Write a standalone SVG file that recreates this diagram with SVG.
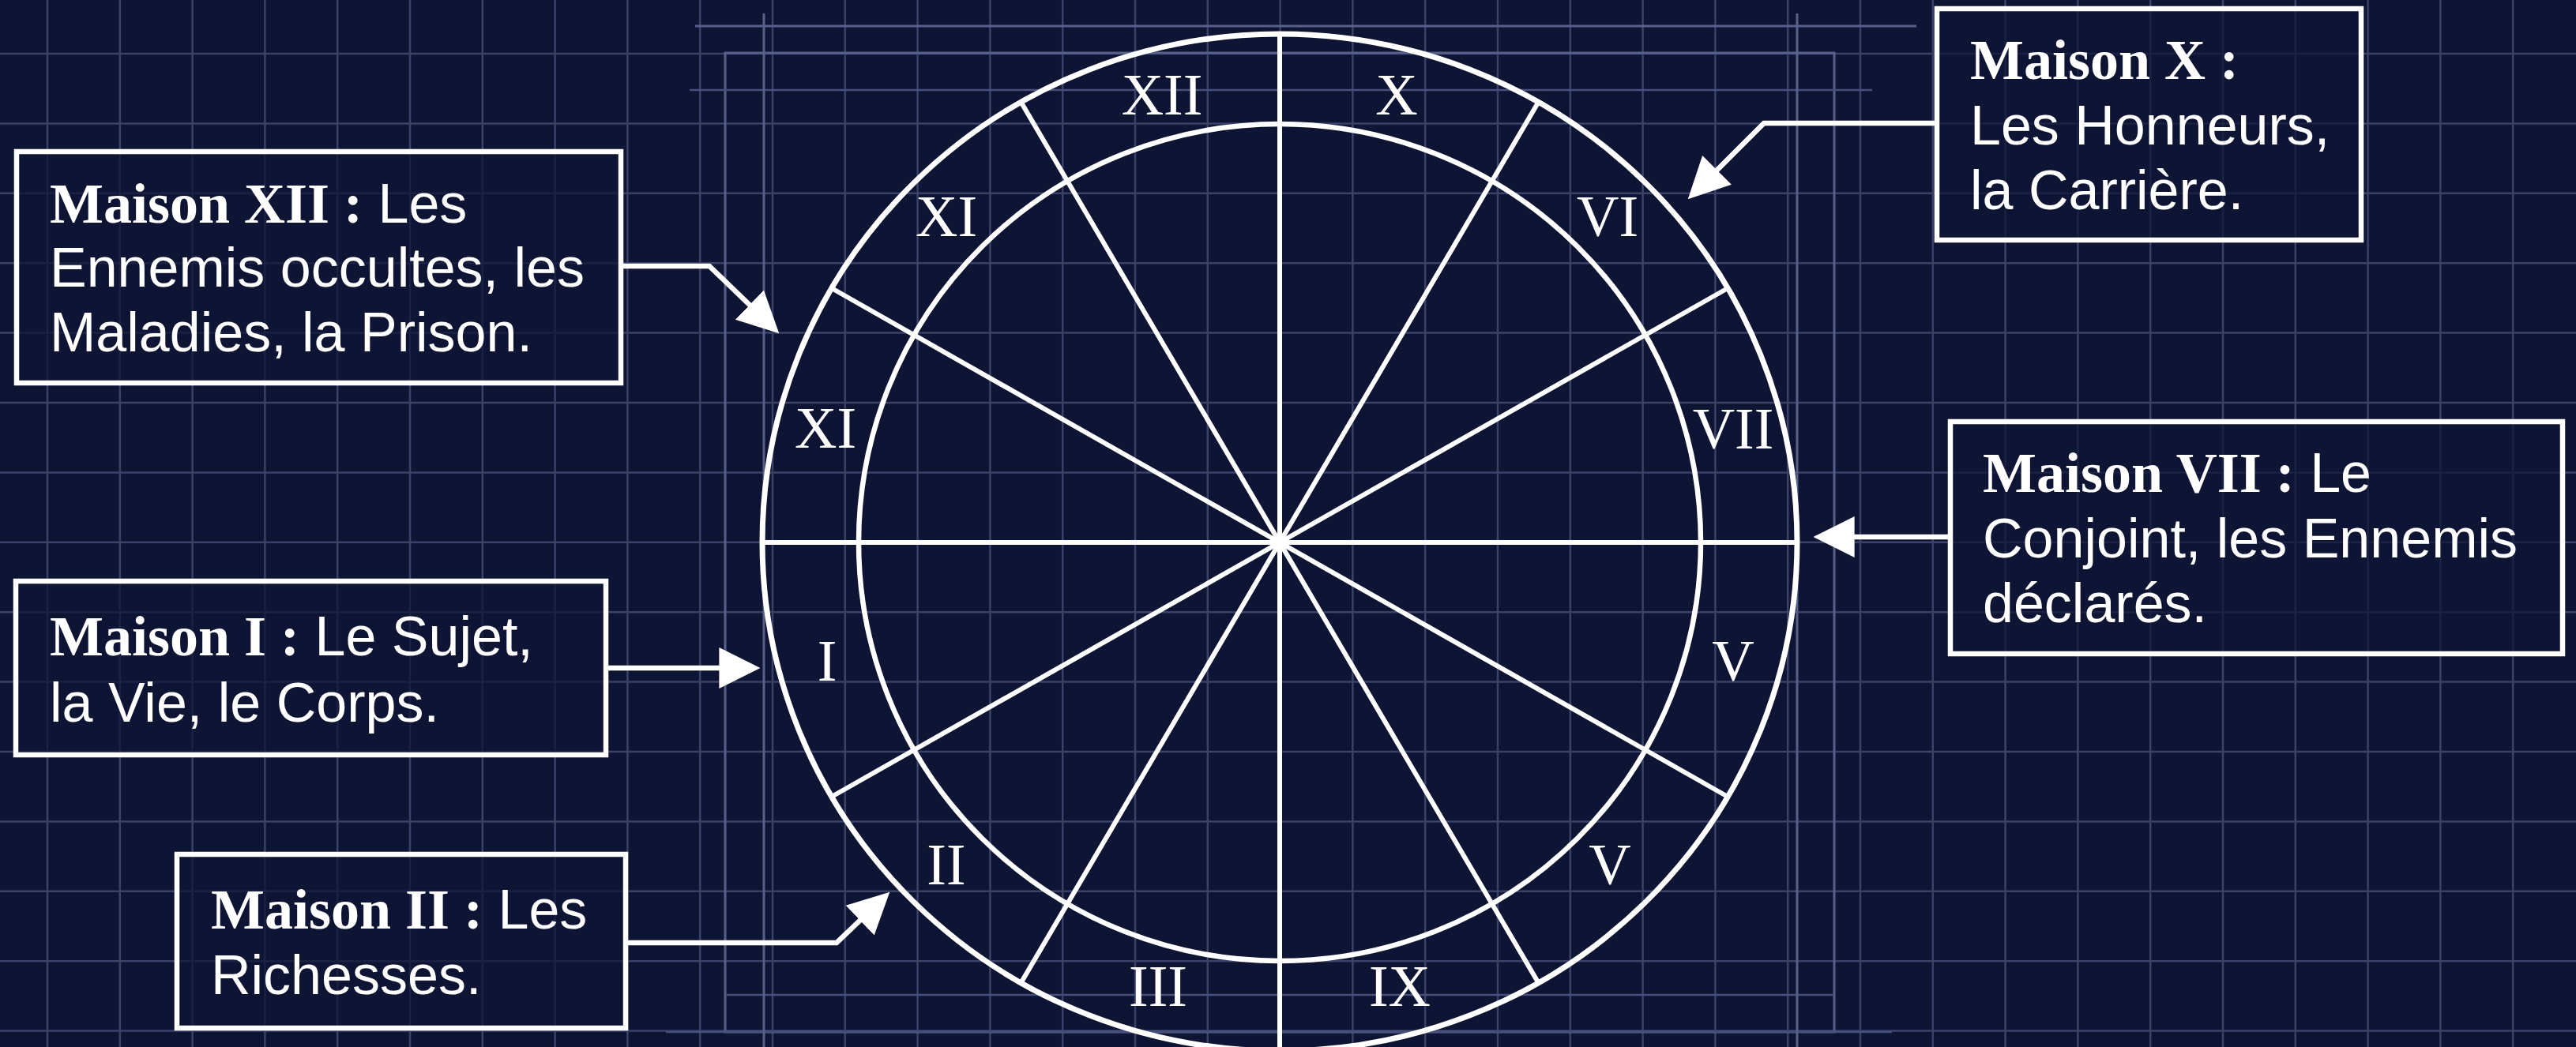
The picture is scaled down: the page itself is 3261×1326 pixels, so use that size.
<svg xmlns="http://www.w3.org/2000/svg" width="3261" height="1326" viewBox="0 0 3261 1326">
<defs>
<style>
.grid line{stroke:#3a4268;stroke-width:2.5}
.frame{stroke:#566088;stroke-width:3;fill:none}
.frame2{stroke:#46507a;stroke-width:2.5;fill:none}
.wheel{stroke:#ffffff;fill:none}
.spoke{stroke:#ffffff;stroke-width:6}
.num{font-family:"Liberation Serif","Times New Roman",serif;font-size:74px;fill:#ffffff;text-anchor:middle}
.box{fill:#0e1534;fill-opacity:0.72;stroke:#ffffff;stroke-width:6.5}
.t{fill:#ffffff}
.b{font-family:"Liberation Serif","Times New Roman",serif;font-weight:bold;font-size:72px}
.r{font-family:"Liberation Sans",Arial,sans-serif;font-size:70px}
.conn{stroke:#ffffff;stroke-width:6.5;fill:none;stroke-linejoin:miter}
</style>
<marker id="ah" viewBox="0 0 10 10" refX="8" refY="5" markerUnits="userSpaceOnUse" markerWidth="52" markerHeight="56" orient="auto">
<path d="M0,0 L10,5 L0,10 z" fill="#ffffff"/>
</marker>
</defs>
<rect x="0" y="0" width="3261" height="1326" fill="#0e1534"/>
<g class="grid">
<line x1="60" y1="0" x2="60" y2="1326"/><line x1="151.8" y1="0" x2="151.8" y2="1326"/><line x1="243.6" y1="0" x2="243.6" y2="1326"/><line x1="335.4" y1="0" x2="335.4" y2="1326"/><line x1="427.2" y1="0" x2="427.2" y2="1326"/><line x1="519" y1="0" x2="519" y2="1326"/><line x1="610.8" y1="0" x2="610.8" y2="1326"/><line x1="702.6" y1="0" x2="702.6" y2="1326"/><line x1="794.4" y1="0" x2="794.4" y2="1326"/><line x1="886.2" y1="0" x2="886.2" y2="1326"/><line x1="978" y1="0" x2="978" y2="1326"/><line x1="1069.8" y1="0" x2="1069.8" y2="1326"/><line x1="1161.6" y1="0" x2="1161.6" y2="1326"/><line x1="1253.4" y1="0" x2="1253.4" y2="1326"/><line x1="1345.2" y1="0" x2="1345.2" y2="1326"/><line x1="1437" y1="0" x2="1437" y2="1326"/><line x1="1528.8" y1="0" x2="1528.8" y2="1326"/><line x1="1620.6" y1="0" x2="1620.6" y2="1326"/><line x1="1712.4" y1="0" x2="1712.4" y2="1326"/><line x1="1804.2" y1="0" x2="1804.2" y2="1326"/><line x1="1896" y1="0" x2="1896" y2="1326"/><line x1="1987.8" y1="0" x2="1987.8" y2="1326"/><line x1="2079.6" y1="0" x2="2079.6" y2="1326"/><line x1="2171.4" y1="0" x2="2171.4" y2="1326"/><line x1="2263.2" y1="0" x2="2263.2" y2="1326"/><line x1="2355" y1="0" x2="2355" y2="1326"/><line x1="2446.8" y1="0" x2="2446.8" y2="1326"/><line x1="2538.6" y1="0" x2="2538.6" y2="1326"/><line x1="2630.4" y1="0" x2="2630.4" y2="1326"/><line x1="2722.2" y1="0" x2="2722.2" y2="1326"/><line x1="2814" y1="0" x2="2814" y2="1326"/><line x1="2905.8" y1="0" x2="2905.8" y2="1326"/><line x1="2997.6" y1="0" x2="2997.6" y2="1326"/><line x1="3089.4" y1="0" x2="3089.4" y2="1326"/><line x1="3181.2" y1="0" x2="3181.2" y2="1326"/>
<line x1="0" y1="68" x2="3261" y2="68"/><line x1="0" y1="156.4" x2="3261" y2="156.4"/><line x1="0" y1="244.8" x2="3261" y2="244.8"/><line x1="0" y1="333.2" x2="3261" y2="333.2"/><line x1="0" y1="421.6" x2="3261" y2="421.6"/><line x1="0" y1="510" x2="3261" y2="510"/><line x1="0" y1="598.4" x2="3261" y2="598.4"/><line x1="0" y1="686.8" x2="3261" y2="686.8"/><line x1="0" y1="775.2" x2="3261" y2="775.2"/><line x1="0" y1="863.6" x2="3261" y2="863.6"/><line x1="0" y1="952" x2="3261" y2="952"/><line x1="0" y1="1040.4" x2="3261" y2="1040.4"/><line x1="0" y1="1128.8" x2="3261" y2="1128.8"/><line x1="0" y1="1217.2" x2="3261" y2="1217.2"/><line x1="0" y1="1305.6" x2="3261" y2="1305.6"/>
</g>
<g id="frame">
<rect class="frame" x="918" y="67" width="1404" height="1240"/>
<line class="frame" x1="880" y1="33" x2="2426" y2="33"/>
<line class="frame2" x1="873" y1="114" x2="2370" y2="114"/>
<line class="frame2" x1="918" y1="1260" x2="2322" y2="1260"/>
<line class="frame2" x1="843" y1="1307" x2="2395" y2="1307"/>
<line class="frame" x1="967" y1="17" x2="967" y2="1326"/>
<line class="frame" x1="2275" y1="17" x2="2275" y2="1326"/>
</g>
<g id="wheel">
<ellipse class="wheel" cx="1620" cy="687" rx="655" ry="644" stroke-width="7"/>
<ellipse class="wheel" cx="1620" cy="687" rx="533" ry="530" stroke-width="6.5"/>
<line class="spoke" x1="965" y1="687" x2="2275" y2="687"/>
<line class="spoke" x1="2187.2" y1="365" x2="1052.8" y2="1009"/>
<line class="spoke" x1="1947.5" y1="129.3" x2="1292.5" y2="1244.7"/>
<line class="spoke" x1="1620" y1="43" x2="1620" y2="1331"/>
<line class="spoke" x1="1292.5" y1="129.3" x2="1947.5" y2="1244.7"/>
<line class="spoke" x1="1052.8" y1="365" x2="2187.2" y2="1009"/>
<text class="num" x="1471" y="145">XII</text>
<text class="num" x="1768" y="145">X</text>
<text class="num" x="1198" y="299">XI</text>
<text class="num" x="2035" y="299">VI</text>
<text class="num" x="1045" y="567">XI</text>
<text class="num" x="2194" y="568">VII</text>
<text class="num" x="1047" y="862">I</text>
<text class="num" x="2194" y="862">V</text>
<text class="num" x="1198" y="1120">II</text>
<text class="num" x="2038" y="1120">V</text>
<text class="num" x="1466" y="1274">III</text>
<text class="num" x="1772" y="1274">IX</text>
</g>
<g id="connectors">
<path class="conn" d="M786,337 H898 L978.8,415" marker-end="url(#ah)"/>
<path class="conn" d="M767,846 H952" marker-end="url(#ah)"/>
<path class="conn" d="M792,1194 H1059 L1118.8,1136.9" marker-end="url(#ah)"/>
<path class="conn" d="M2452,156 H2233 L2144.1,244.9" marker-end="url(#ah)"/>
<path class="conn" d="M2469,680 H2306" marker-end="url(#ah)"/>
</g>
<g id="node-maison-xii">
<rect class="box" x="21" y="192" width="765" height="293"/>
<text class="t" x="63" y="282"><tspan class="b">Maison XII :</tspan><tspan class="r"> Les</tspan></text>
<text class="t r" x="63" y="363">Ennemis occultes, les</text>
<text class="t r" x="63" y="445">Maladies, la Prison.</text>
</g>
<g id="node-maison-i">
<rect class="box" x="20" y="736" width="747" height="220"/>
<text class="t" x="63" y="830"><tspan class="b">Maison I :</tspan><tspan class="r"> Le Sujet,</tspan></text>
<text class="t r" x="63" y="914">la Vie, le Corps.</text>
</g>
<g id="node-maison-ii">
<rect class="box" x="224" y="1082" width="568" height="220"/>
<text class="t" x="267" y="1176"><tspan class="b">Maison II :</tspan><tspan class="r"> Les</tspan></text>
<text class="t r" x="267" y="1259">Richesses.</text>
</g>
<g id="node-maison-x">
<rect class="box" x="2452" y="11" width="537" height="293"/>
<text class="t b" x="2494" y="100">Maison X :</text>
<text class="t r" x="2494" y="183">Les Honneurs,</text>
<text class="t r" x="2494" y="265">la Carrière.</text>
</g>
<g id="node-maison-vii">
<rect class="box" x="2469" y="534" width="775" height="294"/>
<text class="t" x="2510" y="623"><tspan class="b">Maison VII :</tspan><tspan class="r"> Le</tspan></text>
<text class="t r" x="2510" y="706">Conjoint, les Ennemis</text>
<text class="t r" x="2510" y="788">déclarés.</text>
</g>
</svg>
